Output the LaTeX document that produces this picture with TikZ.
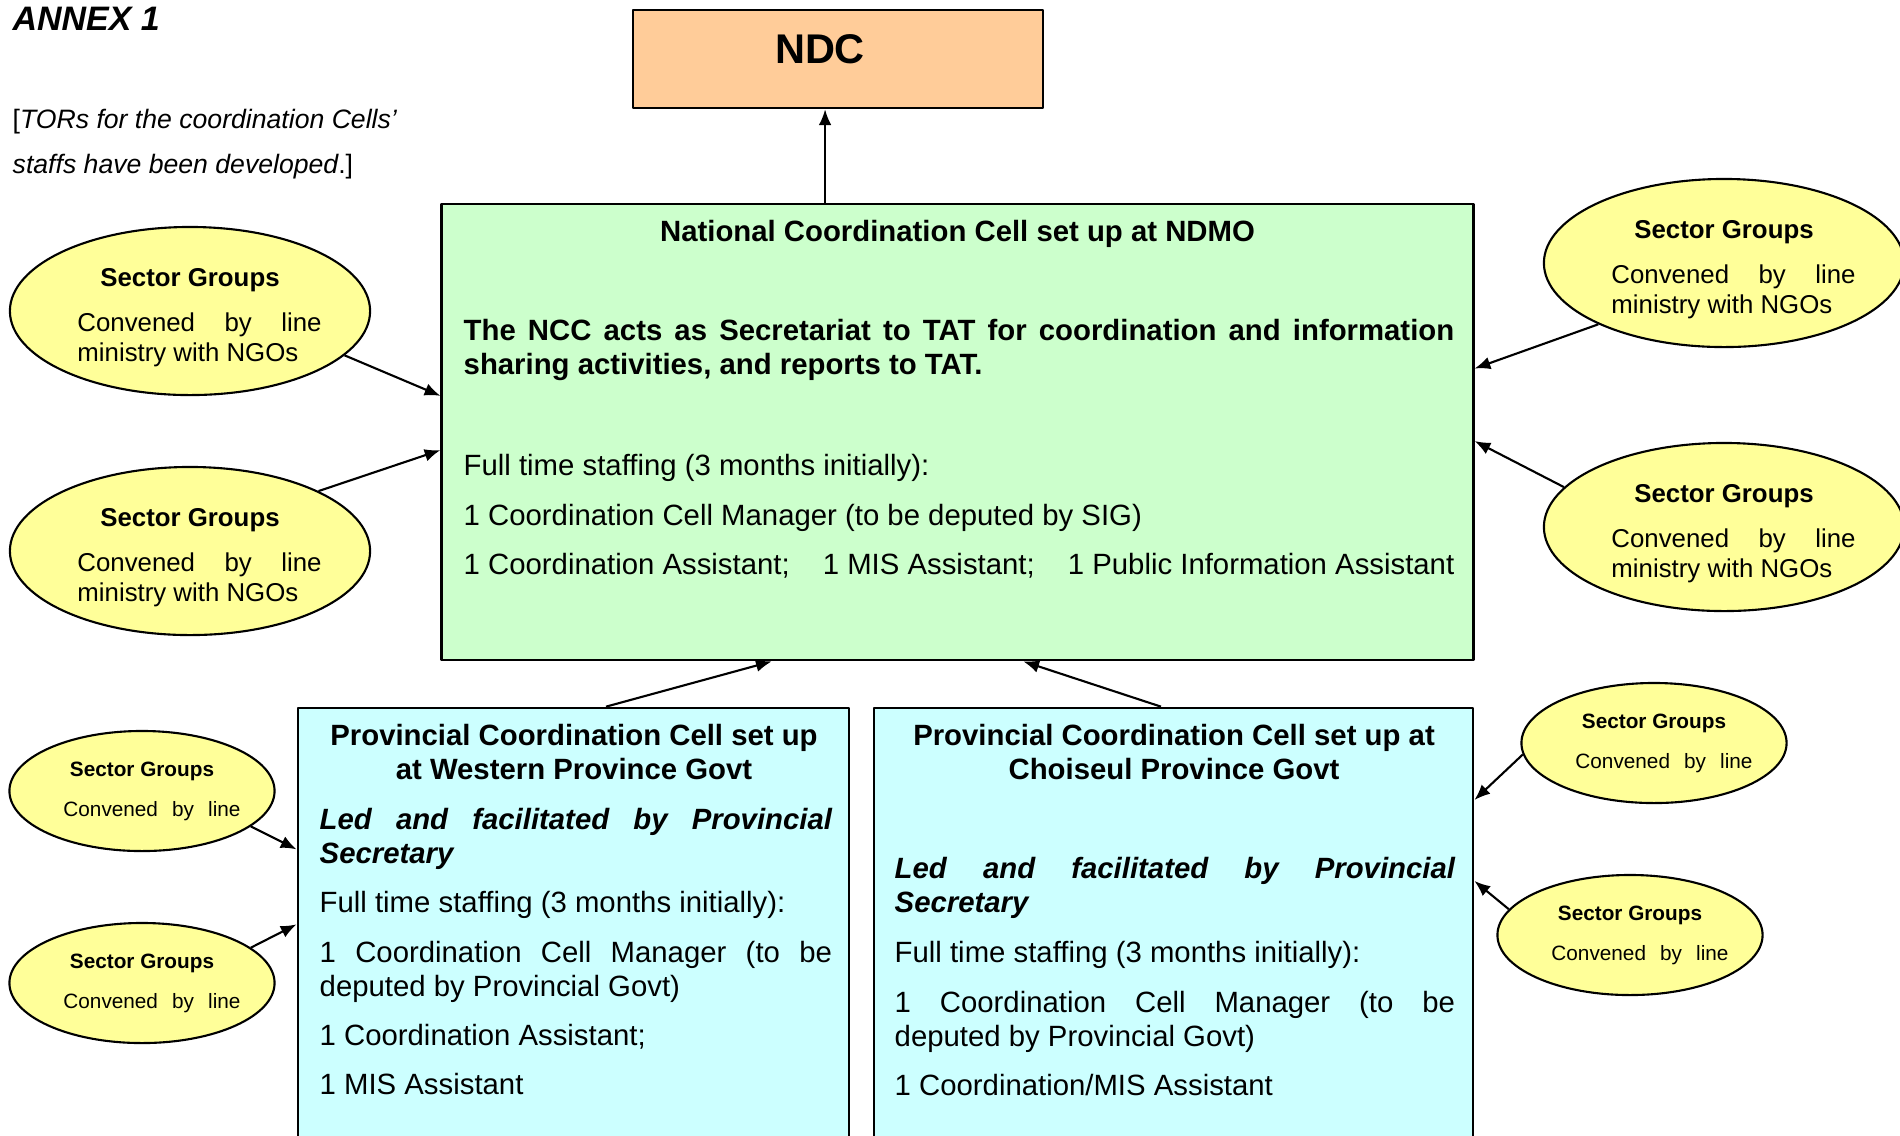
\documentclass[tikz,border=0pt]{standalone}
\usepackage{fontspec}
\setmainfont{Liberation Sans}
\usetikzlibrary{shapes.geometric,arrows.meta}
\definecolor{ndcorange}{HTML}{FFCC99}
\definecolor{nccgreen}{HTML}{CCFFCC}
\definecolor{pcccyan}{HTML}{CCFFFF}
\definecolor{sgyellow}{HTML}{FFFF99}
\hyphenpenalty=10000
\newcommand{\sgbigtext}{\rule{0pt}{8.8pt}\textbf{Sector Groups}\\[4.3pt]\hbox to 2.44cm{\hskip0.095cm Convened\hfill by\hfill line\hskip-0.095cm}\\\makebox[2.44cm][l]{\hskip0.095cm ministry with NGOs}}
\newcommand{\sgsmalltext}{\textbf{Sector Groups}\\[4.4pt]\hbox to 1.77cm{\hskip0.1cm Convened\hfill by\hfill line\hskip-0.1cm}}
\begin{document}
\begin{tikzpicture}[x=0.01cm, y=-0.01cm, line join=round, >={Latex[length=4.5pt,width=3.6pt]},
	box/.style={draw, line width=0.7pt, inner sep=0pt},
	sgbig/.style={ellipse, draw, line width=0.6pt, fill=sgyellow, inner sep=0pt, minimum width=3.6cm, minimum height=1.68cm, align=center, font=\fontsize{7.34}{8.54}\selectfont},
	sgsmall/.style={ellipse, draw, line width=0.6pt, fill=sgyellow, inner sep=0pt, minimum width=2.65cm, minimum height=1.2cm, align=center, font=\fontsize{5.9}{7}\selectfont},
	body/.style={inner sep=0pt, anchor=base west, font=\fontsize{8.34}{9.67}\selectfont},
	bodyb/.style={body, font=\fontsize{8.34}{9.67}\selectfont\bfseries},
	bodybi/.style={body, font=\fontsize{8.34}{9.67}\selectfont\bfseries\itshape},
	link/.style={->, line width=0.6pt}]
	\useasboundingbox (0,0) rectangle (1900,1135);
	\node[inner sep=0pt, anchor=base west, font=\fontsize{9.65}{11}\selectfont\bfseries\itshape] (annex) at (12,30) {ANNEX 1};
	\node[inner sep=0pt, anchor=base west, align=left, font=\fontsize{7.57}{12.8}\selectfont] (tors) at (12,173) {[\textit{TORs for the coordination Cells’}\\\textit{staffs have been developed}.]};
	
	\node[box, fill=ndcorange, minimum width=4.1cm, minimum height=0.98cm] (ndc) at (838,59) {};
	\node[inner sep=0pt, anchor=base, font=\fontsize{11.8}{14}\selectfont\bfseries] (ndclabel) at (820,63) {NDC};
	
	\node[box, fill=nccgreen, minimum width=10.31cm, minimum height=4.56cm] (ncc) at (957.5,432) {};
	\node[bodyb, anchor=base] (ncctitle) at (957.5,241) {National Coordination Cell set up at NDMO};
	\node[bodyb, text width=9.9cm, align=justify] (nccrole) at (463,340) {The NCC acts as Secretariat to TAT for coordination and information sharing activities, and reports to TAT.};
	\node[body] (nccstaff) at (463,475) {Full time staffing (3 months initially):};
	\node[body] (nccmgr) at (463,525) {1 Coordination Cell Manager (to be deputed by SIG)};
	\node[body] (nccasst) at (463,574) {\hbox to 9.9cm{1 Coordination Assistant;\hfill 1 MIS Assistant;\hfill 1 Public Information Assistant}};
	
	\node[box, fill=pcccyan, minimum width=5.51cm, minimum height=4.52cm] (pccw) at (573.5,934) {};
	\node[bodyb, anchor=base, align=center] (pccwtitle) at (574,779) {Provincial Coordination Cell set up\\at Western Province Govt};
	\node[bodybi, text width=5.12cm, align=justify] (pccwlead) at (319,829) {Led and facilitated by Provincial Secretary};
	\node[body] (pccwstaff) at (319,912) {Full time staffing (3 months initially):};
	\node[body, text width=5.12cm, align=justify] (pccwmgr) at (319,962) {1 Coordination Cell Manager (to be\linebreak deputed by Provincial Govt)};
	\node[body] (pccwasst) at (319,1045) {1 Coordination Assistant;};
	\node[body] (pccwmis) at (319,1094) {1 MIS Assistant};
	
	\node[box, fill=pcccyan, minimum width=5.99cm, minimum height=4.52cm] (pccc) at (1173.5,934) {};
	\node[bodyb, anchor=base, align=center] (pccctitle) at (1174,779) {Provincial Coordination Cell set up at\\Choiseul Province Govt};
	\node[bodybi, text width=5.6cm, align=justify] (pccclead) at (894,878) {Led and facilitated by Provincial Secretary};
	\node[body] (pcccstaff) at (894,962) {Full time staffing (3 months initially):};
	\node[body, text width=5.6cm, align=justify] (pcccmgr) at (894,1012) {1 Coordination Cell Manager (to be\linebreak deputed by Provincial Govt)};
	\node[body] (pcccasst) at (894,1095) {1 Coordination/MIS Assistant};
	
	\node[sgbig] (sgl1) at (190,311) {\sgbigtext};
	\node[sgbig] (sgl2) at (190,551) {\sgbigtext};
	\node[sgbig] (sgr1) at (1724,263) {\sgbigtext};
	\node[sgbig] (sgr2) at (1724,527) {\sgbigtext};
	\node[sgsmall] (sgsl1) at (142,791) {\sgsmalltext};
	\node[sgsmall] (sgsl2) at (142,983) {\sgsmalltext};
	\node[sgsmall] (sgsr1) at (1654,743) {\sgsmalltext};
	\node[sgsmall] (sgsr2) at (1630,935) {\sgsmalltext};
	
	\draw[link] (ncc.120) -- (ncc.120 |- ndc.south);
	\draw[link] (sgl1.344) -- (ncc.176);
	\draw[link] (sgl2.25) -- (ncc.182);
	\draw[link] (sgr1.206) -- (ncc.7);
	\draw[link] (sgr2.166) -- (ncc.359);
	\draw[link] ([xshift=0.325cm]pccw.north) -- (ncc.231);
	\draw[link] ([xshift=-0.125cm]pccc.north) -- (ncc.286);
	\draw[link] (sgsl1.342) -- (pccw.163);
	\draw[link] (sgsl2.18) -- (pccw.178);
	\draw[link] (sgsr1.185) -- (pccc.24);
	\draw[link] (sgsr2.168) -- (pccc.10);
\end{tikzpicture}
\end{document}
